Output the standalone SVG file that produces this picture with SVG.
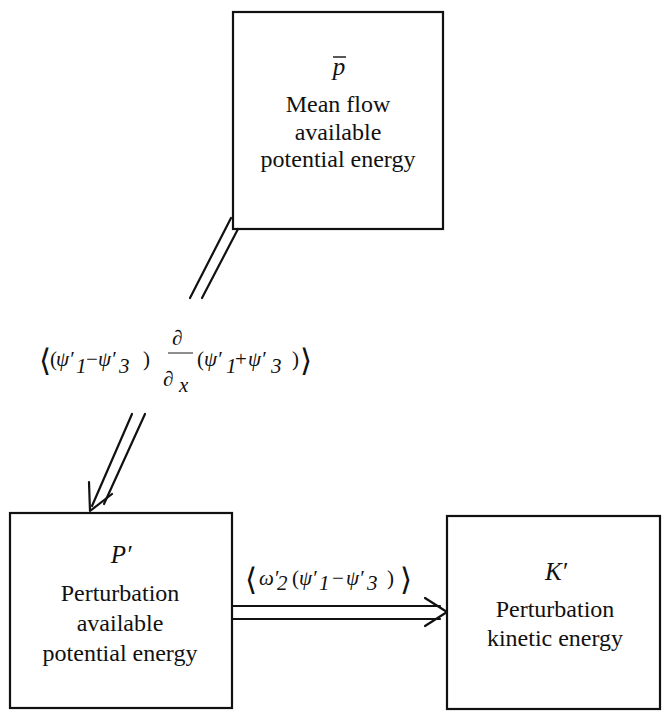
<svg xmlns="http://www.w3.org/2000/svg" width="662" height="711" viewBox="0 0 662 711">
<style>
  .box { fill: #ffffff; stroke: #111; stroke-width: 2.2; }
  .lbl { font-size: 24px; fill: #111; text-anchor: middle; }
  .sym { font-size: 25px; font-style: italic; fill: #111; }
  .m { font-size: 21px; font-style: italic; fill: #111; }
  .mu { font-size: 21px; fill: #111; }
  .br { font-size: 31px; fill: #111; }
  .ln { fill: none; stroke: #111; stroke-width: 2.2; stroke-linecap: round; stroke-linejoin: round; }
</style>
<rect width="662" height="711" fill="#ffffff"/>

<g font-family="Liberation Serif, DejaVu Serif, serif">
<g id="mean-flow-ape">
  <rect class="box" x="233" y="12" width="210" height="217"/>
  <text class="sym" x="339" y="75" text-anchor="middle">p</text>
  <line x1="333" y1="57" x2="346" y2="57" stroke="#111" stroke-width="1.4"/>
  <text class="lbl" x="338" y="112">Mean flow</text>
  <text class="lbl" x="338" y="140">available</text>
  <text class="lbl" x="338" y="167">potential energy</text>
</g>

<g id="perturbation-ape">
  <rect class="box" x="10" y="513" width="222" height="195"/>
  <text class="sym" x="121" y="563" text-anchor="middle">P′</text>
  <text class="lbl" x="120" y="601">Perturbation</text>
  <text class="lbl" x="120" y="631">available</text>
  <text class="lbl" x="120" y="661">potential energy</text>
</g>

<g id="perturbation-ke">
  <rect class="box" x="447" y="516" width="213" height="193"/>
  <text class="sym" x="556" y="580" text-anchor="middle">K′</text>
  <text class="lbl" x="555" y="617">Perturbation</text>
  <text class="lbl" x="555" y="646">kinetic energy</text>
</g>

<g id="connectors">
  <line class="ln" x1="231" y1="218" x2="190" y2="298"/>
  <line class="ln" x1="238" y1="229" x2="202" y2="298"/>
  <line class="ln" x1="132" y1="414" x2="92" y2="506"/>
  <line class="ln" x1="145" y1="414" x2="104" y2="504"/>
  <polyline class="ln" points="89,482 90,511 112,494"/>
  <line class="ln" x1="232" y1="606" x2="440" y2="606"/>
  <line class="ln" x1="232" y1="619" x2="440" y2="619"/>
  <polyline class="ln" points="425,598 447,612 425,626"/>
</g>

<g id="label-conversion-1">
  <text class="br" x="39" y="371" font-family="DejaVu Serif, serif">⟨</text>
  <text class="mu" x="50" y="366">(</text>
  <text class="m" x="56" y="366">ψ′</text>
  <text class="m" x="76" y="373">1</text>
  <text class="mu" x="86" y="366">−</text>
  <text class="m" x="98" y="366">ψ′</text>
  <text class="m" x="119" y="373">3</text>
  <text class="mu" x="143" y="366">)</text>
  <text class="m" x="172" y="345">∂</text>
  <line x1="168" y1="353" x2="193" y2="353" stroke="#444" stroke-width="1.2"/>
  <text class="m" x="163" y="386">∂</text>
  <text class="m" x="179" y="392">x</text>
  <text class="mu" x="197" y="366">(</text>
  <text class="m" x="204" y="366">ψ′</text>
  <text class="m" x="226" y="373">1</text>
  <text class="mu" x="235" y="366">+</text>
  <text class="m" x="248" y="366">ψ′</text>
  <text class="m" x="271" y="373">3</text>
  <text class="mu" x="292" y="366">)</text>
  <text class="br" x="300" y="371" font-family="DejaVu Serif, serif">⟩</text>
</g>

<g id="label-conversion-2">
  <text class="br" x="245" y="590" font-family="DejaVu Serif, serif">⟨</text>
  <text class="m" x="259" y="585">ω′</text>
  <text class="m" x="277" y="590">2</text>
  <text class="mu" x="292" y="585">(</text>
  <text class="m" x="299" y="585">ψ′</text>
  <text class="m" x="319" y="590">1</text>
  <text class="mu" x="332" y="585">−</text>
  <text class="m" x="346" y="585">ψ′</text>
  <text class="m" x="367" y="590">3</text>
  <text class="mu" x="387" y="585">)</text>
  <text class="br" x="400" y="590" font-family="DejaVu Serif, serif">⟩</text>
</g>
</g>
</svg>
